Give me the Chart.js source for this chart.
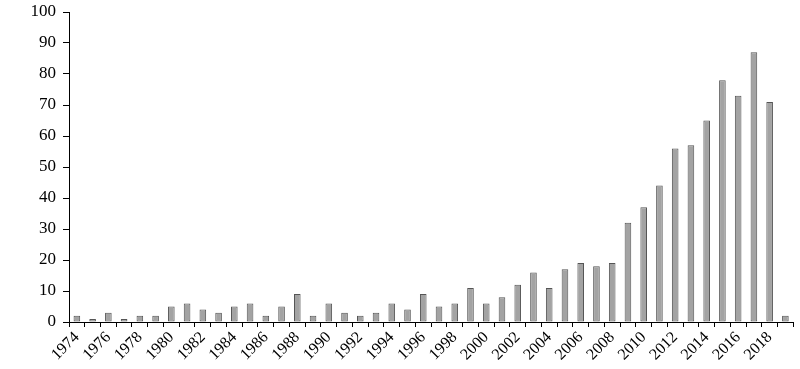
<!DOCTYPE html>
<html>
<head>
<meta charset="utf-8">
<script src="https://cdn.jsdelivr.net/npm/chart.js@4/dist/chart.umd.min.js"></script>
<style>
  html, body { margin: 0; padding: 0; background: #fff; }
  #wrap { width: 800px; height: 369px; }
</style>
</head>
<body>
<div id="wrap"><canvas id="pubChart"></canvas></div>
<script>
const years = [];
for (let y = 1974; y <= 2019; y++) years.push(String(y));

const counts = [2, 1, 3, 1, 2, 2, 5, 6, 4, 3,
                5, 6, 2, 5, 9, 2, 6, 3, 2, 3,
                6, 4, 9, 5, 6, 11, 6, 8, 12, 16,
                11, 17, 19, 18, 19, 32, 37, 44, 56, 57,
                65, 78, 73, 87, 71, 2];

const yTicks = [0, 10, 20, 30, 40, 50, 60, 70, 80, 90, 100];

const serif = "'Liberation Serif', 'Times New Roman', Times, serif";

const ctx = document.getElementById('pubChart').getContext('2d');
const chart = new Chart(ctx, {
    type: 'bar',
    data: {
        labels: years,
        datasets: [{
            data: counts,
            backgroundColor: '#a3a3a3',
            borderColor: '#555555',
            borderWidth: 1,
            borderSkipped: false,
            barPercentage: 0.42,
            categoryPercentage: 1.0
        }]
    },
    options: {
        responsive: true,
        maintainAspectRatio: false,
        animation: false,
        layout: { padding: { top: 0, right: 3, left: 0, bottom: 0 } },
        plugins: { legend: { display: false }, tooltip: { enabled: false } },
        scales: {
            x: {
                grid: { display: true, drawOnChartArea: false, drawTicks: true, tickLength: 5, color: '#000', offset: true },
                border: { display: true, color: '#000', width: 1 },
                ticks: {
                    autoSkip: false,
                    maxRotation: 45,
                    minRotation: 45,
                    padding: 1,
                    color: '#000',
                    font: { family: serif, size: 16 },
                    callback: function(value, index) {
                        return index % 2 === 0 ? this.getLabelForValue(value) : '';
                    }
                },
                afterFit: function(scale) { scale.height = 47; }
            },
            y: {
                min: 0,
                max: 100,
                afterBuildTicks: function(scale) {
                    scale.ticks = yTicks.map(v => ({ value: v }));
                },
                grid: { display: true, drawOnChartArea: false, drawTicks: true, tickLength: 6, color: '#000' },
                border: { display: true, color: '#000', width: 1 },
                ticks: {
                    padding: 7,
                    color: '#000',
                    font: { family: serif, size: 17, lineHeight: 1.0 }
                },
                afterFit: function(scale) {
                    scale.width = 69;
                    scale.paddingTop = 12;
                }
            }
        }
    }
});
</script>
</body>
</html>
